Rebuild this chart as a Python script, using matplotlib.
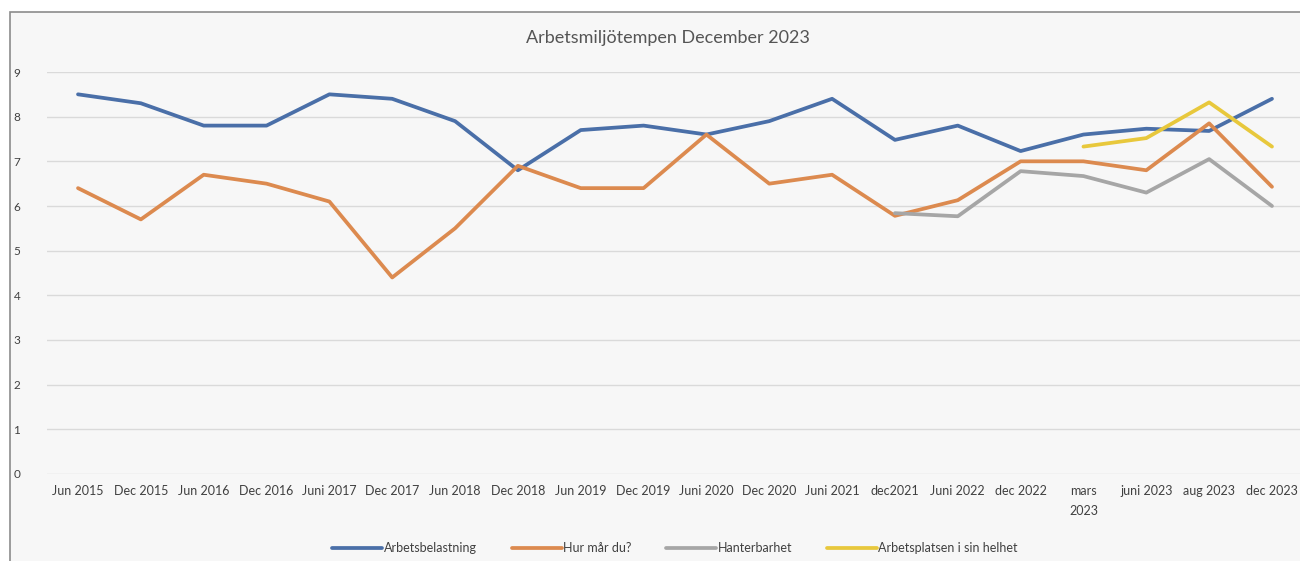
import matplotlib.pyplot as plt
from matplotlib.patches import Rectangle
import numpy as np

plt.rcParams['font.family'] = ['Lato', 'DejaVu Sans']

labels = ["Jun 2015", "Dec 2015", "Jun 2016", "Dec 2016", "Juni 2017", "Dec 2017",
          "Jun 2018", "Dec 2018", "Jun 2019", "Dec 2019", "Juni 2020", "Dec 2020",
          "Juni 2021", "dec2021", "Juni 2022", "dec 2022", "mars\n2023", "juni 2023",
          "aug 2023", "dec 2023"]

arbetsbelastning = [8.5, 8.3, 7.8, 7.8, 8.5, 8.4, 7.9, 6.8, 7.7, 7.8,
                    7.6, 7.9, 8.4, 7.48, 7.8, 7.23, 7.6, 7.73, 7.68, 8.4]
hur_mar_du = [6.4, 5.7, 6.7, 6.5, 6.1, 4.4, 5.5, 6.9, 6.4, 6.4,
              7.6, 6.5, 6.7, 5.78, 6.13, 7.0, 7.0, 6.8, 7.85, 6.43]
hanterbarhet = [None] * 13 + [5.84, 5.77, 6.78, 6.67, 6.3, 7.05, 6.0]
arbetsplatsen = [None] * 16 + [7.33, 7.52, 8.32, 7.33]

series = [
    ("Arbetsbelastning", arbetsbelastning, "#4a6fa8"),
    ("Hur mår du?", hur_mar_du, "#dc8a4f"),
    ("Hanterbarhet", hanterbarhet, "#a6a6a6"),
    ("Arbetsplatsen i sin helhet", arbetsplatsen, "#e8c83c"),
]

fig = plt.figure(figsize=(13, 5.61), dpi=100)
fig.patch.set_facecolor("white")
# chart frame
fig.patches.append(Rectangle((10 / 1300, -0.05), 1.1, (561 - 12) / 561 + 0.05,
                             transform=fig.transFigure, facecolor="#f7f7f7",
                             edgecolor="#8c8c8c", lw=1.2, zorder=-5))

ax = fig.add_axes([46.6 / 1300, 87 / 561, 1256.8 / 1300, 402 / 561])
ax.set_facecolor("none")
x = np.arange(len(labels))
for name, vals, col in series:
    y = np.array([np.nan if v is None else v for v in vals], dtype=float)
    ax.plot(x, y, color=col, lw=2.7, label=name, solid_capstyle="round")

ax.set_xlim(-0.5, len(labels) - 0.5)
ax.set_ylim(0, 9)
ax.set_yticks(range(0, 10))
ax.grid(axis="y", color="#dadada", lw=1)
ax.set_axisbelow(True)
ax.set_xticks(x)
ax.set_xticklabels(labels, fontsize=9, color="#404040", va="top", linespacing=1.75)
ax.tick_params(axis="both", length=0)
ax.tick_params(axis="y", labelsize=8.5, labelcolor="#404040", pad=19)
ax.tick_params(axis="x", pad=8)
for s in ax.spines.values():
    s.set_visible(False)

fig.text(668 / 1300, 1 - 38 / 561, "Arbetsmiljötempen December 2023",
         ha="center", va="center", fontsize=13, color="#555555")

fig.legend(loc="center", bbox_to_anchor=(675 / 1300, 1 - 548 / 561), ncol=4,
           frameon=False, fontsize=9, handlelength=4.0, columnspacing=2.8,
           handletextpad=0.1, labelcolor="#404040")

fig.savefig("out.png", dpi=100)
